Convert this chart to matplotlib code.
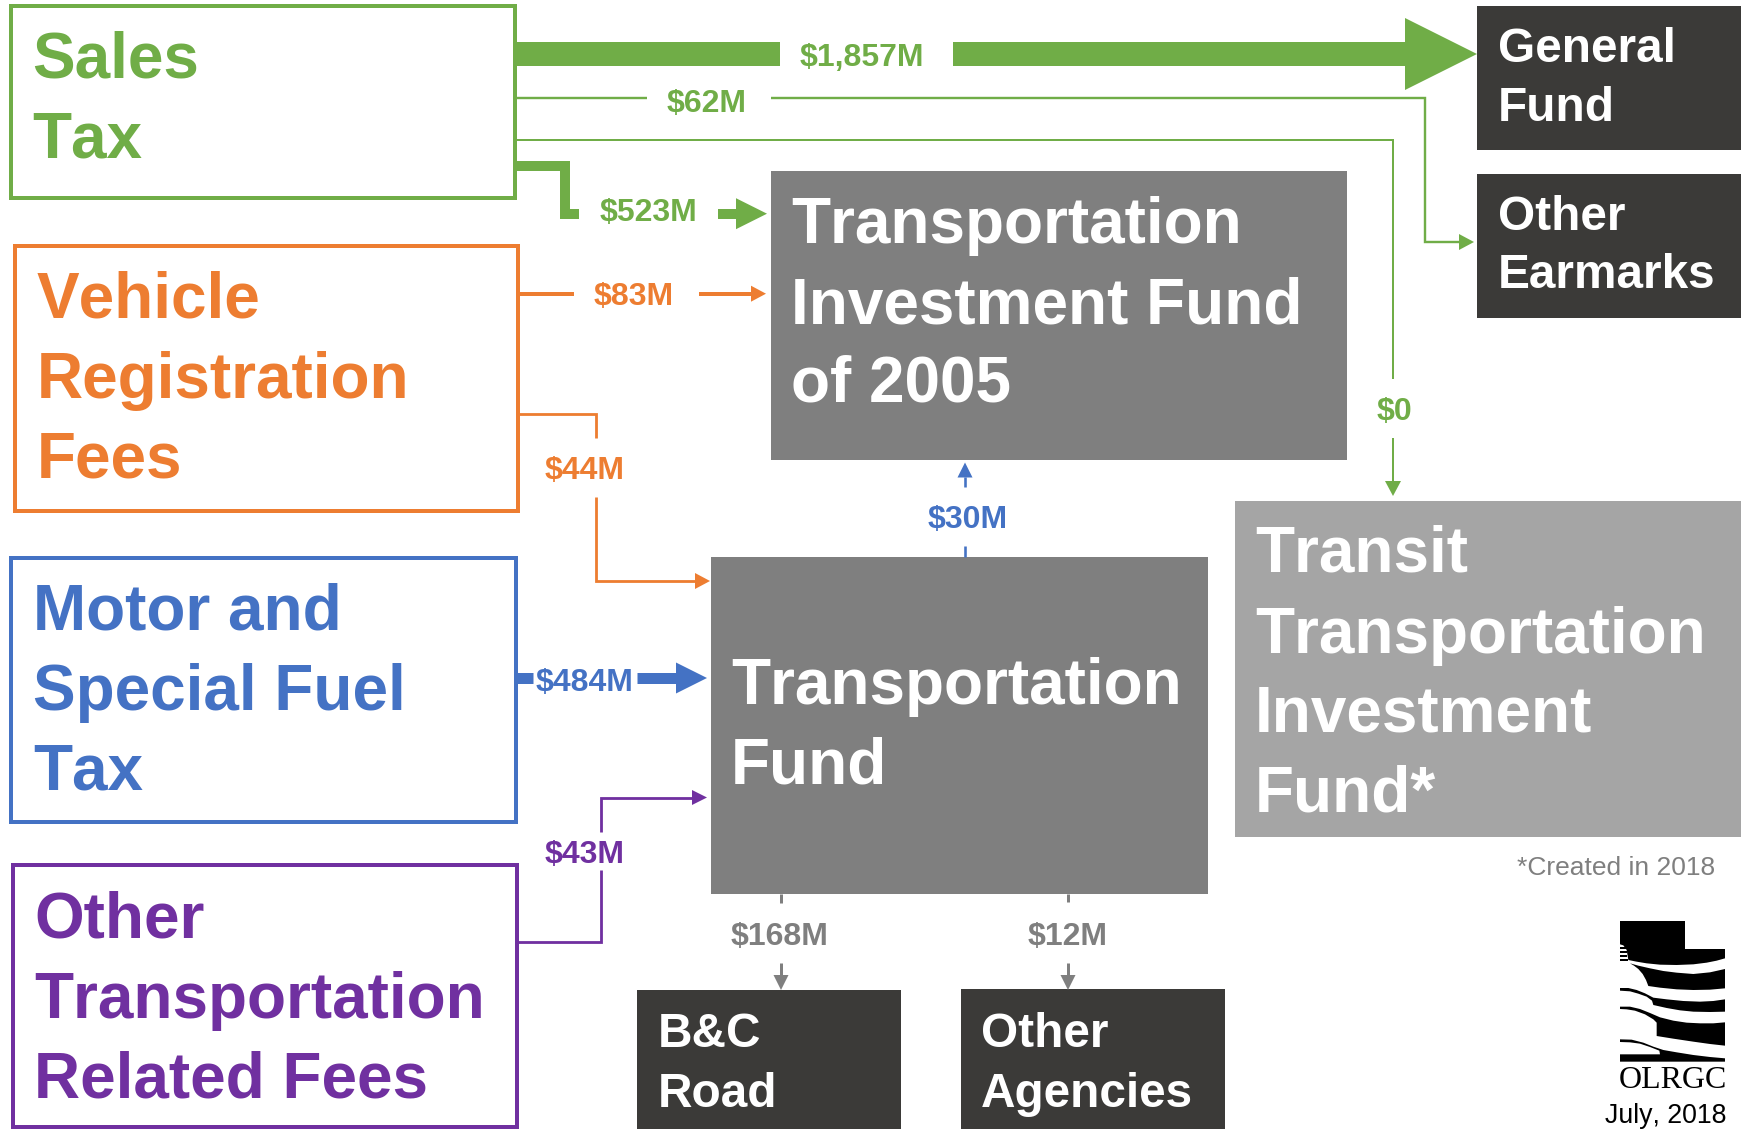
import matplotlib
matplotlib.use('Agg')
import matplotlib.pyplot as plt
from matplotlib.patches import Rectangle, Polygon

plt.rcParams['font.family'] = ['Liberation Sans', 'DejaVu Sans']
plt.rcParams['text.kerning_factor'] = 12  # the reference has no kerning

# revenue sources
sales_lines = ['Sales', 'Tax']
vehicle_lines = ['Vehicle', 'Registration', 'Fees']
motor_lines = ['Motor and', 'Special Fuel', 'Tax']
other_fee_lines = ['Other', 'Transportation', 'Related Fees']

# funds and destinations
tif_lines = ['Transportation', 'Investment Fund', 'of 2005']
tf_lines = ['Transportation', 'Fund']
transit_lines = ['Transit', 'Transportation', 'Investment', 'Fund*']
general_lines = ['General', 'Fund']
earmark_lines = ['Other', 'Earmarks']
road_lines = ['B&C', 'Road']
agency_lines = ['Other', 'Agencies']

# flow amounts
sales_flows = ['$1,857M', '$62M', '$0', '$523M']
vehicle_flows = ['$83M', '$44M']
motor_flow = '$484M'
other_fee_flow = '$43M'
tf_flows = ['$30M', '$168M', '$12M']

footnote = '*Created in 2018'
logo_name = 'OLRGC'
date_text = 'July, 2018'

GREEN = '#70AD47'
ORANGE = '#ED7D31'
BLUE = '#4472C4'
PURPLE = '#7030A0'
GRAY = '#7F7F7F'
DARK = '#3B3A38'
LIGHT = '#A5A5A5'

fig = plt.figure(figsize=(17.43, 11.29), dpi=100)
ax = fig.add_axes([0, 0, 1, 1])
ax.set_xlim(0, 1743)
ax.set_ylim(1129, 0)
ax.axis('off')


def write(lines, x, baselines, color, size):
    for line, y in zip(lines, baselines):
        ax.text(x, y, line, color=color, fontsize=size, fontweight='bold', ha='left', va='baseline')


def outline_box(x0, y0, x1, y1, color):
    # edges are given on the outside of the stroke
    ax.add_patch(Rectangle((x0 + 2, y0 + 2), x1 - x0 - 4, y1 - y0 - 4, fill=False,
                           edgecolor=color, linewidth=2.88, joinstyle='miter'))


def solid_box(x0, y0, x1, y1, color):
    ax.add_patch(Rectangle((x0, y0), x1 - x0, y1 - y0, facecolor=color, edgecolor='none'))


def line(xs, ys, color, width):
    ax.plot(xs, ys, color=color, linewidth=width * 0.72, solid_capstyle='butt', solid_joinstyle='miter')


def head(x0, y0, x1, y1, half, color):
    # triangle from base centre (x0, y0) to the tip (x1, y1)
    if y0 == y1:
        pts = [(x0, y0 - half), (x1, y1), (x0, y0 + half)]
    else:
        pts = [(x0 - half, y0), (x1, y1), (x0 + half, y0)]
    ax.add_patch(Polygon(pts, closed=True, facecolor=color, edgecolor='none'))


def amount(text, x, y, color):
    ax.text(x, y, text, color=color, fontsize=23, fontweight='bold', ha='center', va='baseline')


# boxes
outline_box(9, 4, 517, 200, GREEN)
outline_box(13, 244, 520, 513, ORANGE)
outline_box(9, 556, 518, 824, BLUE)
outline_box(11, 863, 519, 1129, PURPLE)
solid_box(771, 171, 1347, 460, GRAY)
solid_box(711, 557, 1208, 894, GRAY)
solid_box(1235, 501, 1741, 837, LIGHT)
solid_box(1477, 6, 1741, 150, DARK)
solid_box(1477, 174, 1741, 318, DARK)
solid_box(637, 990, 901, 1129, DARK)
solid_box(961, 989, 1225, 1129, DARK)

write(sales_lines, 32, [77, 157], GREEN, 46)
write(vehicle_lines, 37, [318, 398, 478], ORANGE, 46)
write(motor_lines, 33, [630, 710, 789], BLUE, 46)
write(other_fee_lines, 34, [937, 1018, 1098], PURPLE, 46)
write(tif_lines, 791, [243, 323, 402], 'white', 46)
write(tf_lines, 731, [704, 784], 'white', 46)
write(transit_lines, 1255, [572, 653, 732, 811], 'white', 46)
write(general_lines, 1498, [62, 121], 'white', 34.4)
write(earmark_lines, 1498, [230, 288], 'white', 34.4)
write(road_lines, 658, [1047, 1107], 'white', 34.4)
write(agency_lines, 981, [1047, 1107], 'white', 34.4)

# sales tax flows
line([515, 780], [54, 54], GREEN, 24)
line([953, 1406], [54, 54], GREEN, 24)
head(1405, 54, 1477, 54, 36, GREEN)
amount(sales_flows[0], 862, 66, GREEN)

line([515, 647], [97.7, 97.7], GREEN, 2.4)
line([771, 1425, 1425, 1460], [97.7, 97.7, 242, 242], GREEN, 2.4)
head(1459, 242, 1474, 242, 8, GREEN)
amount(sales_flows[1], 707, 112, GREEN)

line([515, 1393, 1393], [140, 140, 379], GREEN, 2)
line([1393, 1393], [438, 482], GREEN, 2)
head(1393, 481, 1393, 496, 8, GREEN)
amount(sales_flows[2], 1394, 420, GREEN)

line([515, 565, 565, 579], [165.7, 165.7, 213.5, 213.5], GREEN, 10)
line([718, 737], [213.7, 213.7], GREEN, 10)
head(736, 213.7, 767, 213.7, 15.5, GREEN)
amount(sales_flows[3], 648, 221, GREEN)

# vehicle registration flows
line([518, 574], [293.7, 293.7], ORANGE, 4)
line([699, 752], [293.7, 293.7], ORANGE, 4)
head(751, 293.7, 766, 293.7, 8, ORANGE)
amount(vehicle_flows[0], 634, 305, ORANGE)

line([518, 596, 596], [414, 414, 437.5], ORANGE, 2.8)
line([596, 596, 696], [497, 581, 581], ORANGE, 2.8)
head(695, 581, 710, 581, 8, ORANGE)
amount(vehicle_flows[1], 585, 478.6, ORANGE)

# motor fuel flow
line([515, 533], [678, 678], BLUE, 11)
line([637, 677], [678, 678], BLUE, 11)
head(676, 678, 707, 678, 15.5, BLUE)
amount(motor_flow, 585, 691, BLUE)

# other fees flow
line([517, 601, 601], [942, 942, 870], PURPLE, 2.8)
line([601, 601, 693], [832, 797.5, 797.5], PURPLE, 2.8)
head(692, 797.5, 707, 797.5, 7.5, PURPLE)
amount(other_fee_flow, 585, 863, PURPLE)

# transportation fund flows
line([965, 965], [557, 546], BLUE, 2.6)
line([965, 965], [487, 477], BLUE, 2.6)
head(965, 477.5, 965, 462.5, 7.5, BLUE)
amount(tf_flows[0], 968, 528, BLUE)

line([781, 781], [894, 903], GRAY, 3)
line([781, 781], [963, 976], GRAY, 3)
head(781, 975, 781, 990, 7.5, GRAY)
amount(tf_flows[1], 780, 945.5, GRAY)

line([1068, 1068], [894, 902], GRAY, 3)
line([1068, 1068], [963, 976], GRAY, 3)
head(1068, 975, 1068, 990, 7.5, GRAY)
amount(tf_flows[2], 1068, 945.5, GRAY)

ax.text(1715, 875, footnote, color=GRAY, fontsize=19, ha='right', va='baseline')

# logo, traced in crop pixels of the corner (3x, starting at 1560,900)
logo_shapes = [
    [(180, 63), (375, 63), (375, 147), (495, 147), (495, 175), (470, 182), (440, 188), (400, 193),
     (350, 195), (300, 194), (260, 190), (230, 185), (205, 180), (200, 150), (190, 136), (180, 133)],
    [(210, 190), (235, 197), (270, 205), (310, 213), (350, 218), (400, 222), (450, 217), (495, 207),
     (495, 265), (450, 269), (400, 270), (350, 268), (300, 263), (265, 258), (258, 240), (248, 222),
     (235, 207), (222, 197)],
    [(180, 264), (205, 264), (230, 270), (255, 280), (280, 293), (320, 298), (370, 303), (420, 305),
     (460, 303), (495, 298), (495, 335), (450, 336), (400, 335), (360, 331), (320, 324), (280, 315),
     (276, 302), (260, 290), (235, 281), (210, 274), (180, 272)],
    [(180, 320), (210, 320), (240, 327), (270, 339), (300, 352), (340, 362), (380, 368), (420, 370),
     (460, 370), (495, 367), (495, 437), (450, 432), (400, 425), (340, 416), (290, 408), (290, 368),
     (280, 358), (255, 343), (225, 332), (200, 328), (180, 327)],
    [(180, 418), (215, 419), (250, 428), (280, 440), (310, 450), (350, 457), (400, 465), (450, 471),
     (495, 475), (495, 485), (180, 485), (180, 463), (300, 463), (298, 452), (270, 441), (240, 431),
     (210, 427), (180, 426)],
    [(180, 142), (198, 142), (198, 147), (180, 147)],
    [(180, 154), (200, 154), (200, 159), (180, 159)],
    [(180, 166), (202, 166), (202, 171), (180, 171)],
    [(180, 178), (204, 178), (204, 183), (180, 183)],
]
for shape in logo_shapes:
    ax.add_patch(Polygon([(1560 + x / 3, 900 + y / 3) for x, y in shape], closed=True,
                         facecolor='black', edgecolor='none'))

ax.text(1672.5, 1088, logo_name, color='black', fontsize=23, family=['Liberation Serif', 'DejaVu Serif'],
        ha='center', va='baseline')
ax.text(1666, 1123, date_text, color='black', fontsize=19.3, ha='center', va='baseline')

fig.savefig('out.png', dpi=100, facecolor='white')
